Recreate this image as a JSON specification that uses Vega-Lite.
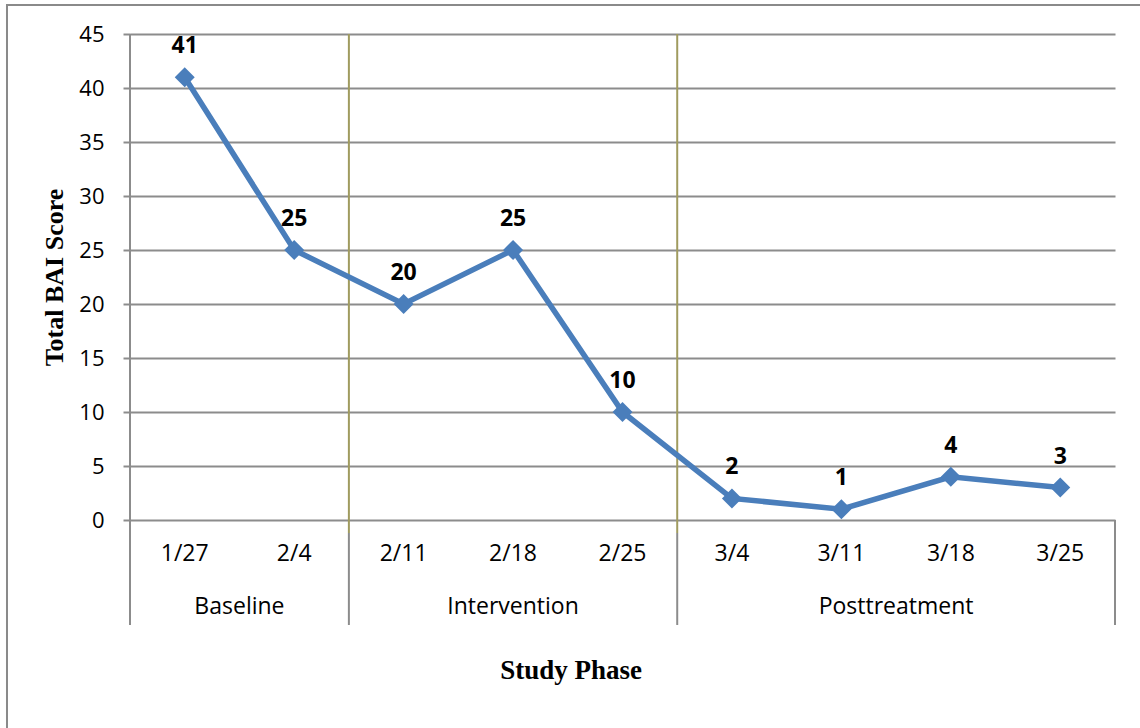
{
  "$schema": "https://vega.github.io/schema/vega-lite/v6.json",
  "width": 985,
  "height": 486,
  "autosize": "none",
  "padding": {"left": 130, "top": 34, "right": 25, "bottom": 208},
  "background": "white",
  "config": {"view": {"stroke": null}, "font": "Open Sans"},
  "datasets": {
    "scores": [
      {"i": 0.5, "date": "1/27", "score": 41},
      {"i": 1.5, "date": "2/4", "score": 25},
      {"i": 2.5, "date": "2/11", "score": 20},
      {"i": 3.5, "date": "2/18", "score": 25},
      {"i": 4.5, "date": "2/25", "score": 10},
      {"i": 5.5, "date": "3/4", "score": 2},
      {"i": 6.5, "date": "3/11", "score": 1},
      {"i": 7.5, "date": "3/18", "score": 4},
      {"i": 8.5, "date": "3/25", "score": 3}
    ],
    "vlines": [
      {"x": 0, "y1": -9.72, "y2": 45, "kind": "grey"},
      {"x": 2, "y1": -9.72, "y2": -1.2, "kind": "grey"},
      {"x": 5, "y1": -9.72, "y2": -1.2, "kind": "grey"},
      {"x": 9, "y1": -9.72, "y2": 0, "kind": "grey"},
      {"x": 2, "y1": -1.2, "y2": 45, "kind": "olive"},
      {"x": 5, "y1": -1.2, "y2": 45, "kind": "olive"}
    ],
    "phases": [
      {"pos": 1, "phase": "Baseline"},
      {"pos": 3.5, "phase": "Intervention"},
      {"pos": 7, "phase": "Posttreatment"}
    ],
    "frame": [{"x1": -1.1239, "x2": 10.5, "y1": -20, "y2": 47.685}]
  },
  "layer": [
    {
      "data": {"name": "frame"},
      "mark": {"type": "rect", "fill": null, "filled": false, "stroke": "#8a8a8a", "strokeWidth": 2},
      "encoding": {
        "x": {"field": "x1", "type": "quantitative", "scale": {"domain": [0, 9], "nice": false, "zero": false}, "axis": null},
        "x2": {"field": "x2"},
        "y": {
          "field": "y1", "type": "quantitative",
          "scale": {"domain": [0, 45], "nice": false, "zero": false},
          "axis": {
            "values": [0, 5, 10, 15, 20, 25, 30, 35, 40, 45],
            "domain": false,
            "grid": true,
            "gridColor": "#8c8c8c",
            "gridWidth": 2,
            "gridOpacity": 1,
            "ticks": true,
            "tickSize": 7,
            "tickWidth": 2,
            "tickColor": "#8c8c8c",
            "labelPadding": 19,
            "labelFont": "Open Sans",
            "labelFontSize": 22,
            "labelColor": "#000000",
            "title": "Total BAI Score",
            "titleFont": "Liberation Serif",
            "titleFontWeight": "bold",
            "titleFontSize": 26,
            "titleColor": "#000000",
            "titleAngle": 270,
            "titleAlign": "center",
            "titleBaseline": "middle",
            "titleX": -76,
            "titleY": 243
          }
        },
        "y2": {"field": "y2"}
      }
    },
    {
      "data": {"name": "vlines"},
      "mark": {"type": "rule", "strokeWidth": 2},
      "encoding": {
        "x": {"field": "x", "type": "quantitative", "axis": null},
        "y": {"field": "y1", "type": "quantitative"},
        "y2": {"field": "y2"},
        "color": {"field": "kind", "type": "nominal", "scale": {"domain": ["grey", "olive"], "range": ["#8c8c8c", "#a09b5f"]}, "legend": null}
      }
    },
    {
      "data": {"name": "scores"},
      "mark": {"type": "line", "color": "#4a7ebb", "strokeWidth": 5.5},
      "encoding": {
        "x": {"field": "i", "type": "quantitative", "axis": null},
        "y": {"field": "score", "type": "quantitative"}
      }
    },
    {
      "data": {"name": "scores"},
      "mark": {"type": "point", "shape": "diamond", "filled": true, "color": "#4a7ebb", "size": 400, "opacity": 1},
      "encoding": {
        "x": {"field": "i", "type": "quantitative", "axis": null},
        "y": {"field": "score", "type": "quantitative"}
      }
    },
    {
      "data": {"name": "scores"},
      "mark": {"type": "text", "font": "Open Sans", "fontWeight": "bold", "fontSize": 23, "color": "#000000", "baseline": "middle", "dy": -31},
      "encoding": {
        "x": {"field": "i", "type": "quantitative", "axis": null},
        "y": {"field": "score", "type": "quantitative"},
        "text": {"field": "score", "type": "quantitative"}
      }
    },
    {
      "data": {"name": "scores"},
      "mark": {"type": "text", "font": "Open Sans", "fontSize": 23, "color": "#000000", "baseline": "middle"},
      "encoding": {
        "x": {"field": "i", "type": "quantitative", "axis": null},
        "y": {"datum": -3.19, "type": "quantitative"},
        "text": {"field": "date", "type": "nominal"}
      }
    },
    {
      "data": {"name": "phases"},
      "mark": {"type": "text", "font": "Open Sans", "fontSize": 23, "color": "#000000", "baseline": "middle"},
      "encoding": {
        "x": {"field": "pos", "type": "quantitative", "axis": null},
        "y": {"datum": -8.01, "type": "quantitative"},
        "text": {"field": "phase", "type": "nominal"}
      }
    },
    {
      "data": {"values": [{"t": "Study Phase"}]},
      "mark": {"type": "text", "font": "Liberation Serif", "fontWeight": "bold", "fontSize": 27, "color": "#000000", "baseline": "middle"},
      "encoding": {
        "x": {"datum": 4.03, "type": "quantitative", "axis": null},
        "y": {"datum": -13.98, "type": "quantitative"},
        "text": {"field": "t", "type": "nominal"}
      }
    }
  ]
}
